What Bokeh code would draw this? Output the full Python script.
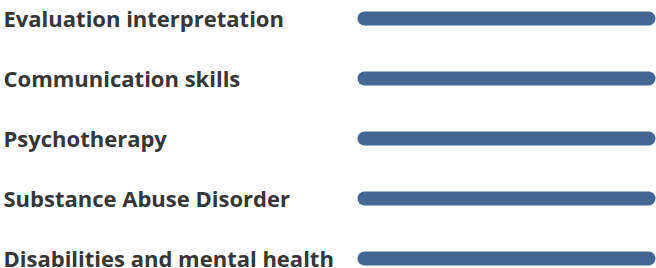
from bokeh.plotting import figure
from bokeh.models import ColumnDataSource, Range1d
from bokeh.core.properties import value
from bokeh.embed import file_html
from bokeh.resources import INLINE

categories = [
    "Evaluation interpretation",
    "Communication skills",
    "Psychotherapy",
    "Substance Abuse Disorder",
    "Disabilities and mental health",
]
values = [100, 100, 100, 100, 100]

W, H = 656, 268
bar_left_px = 357
bar_right_px = 655
label_left_px = 3
vmax = max(values)
ppu = (bar_right_px - bar_left_px) / vmax
x_start = -bar_left_px / ppu
x_end = (W - bar_left_px) / ppu

n = len(categories)
row_px = 60
top_pad_px = 18
y_top = -top_pad_px / row_px
y_bottom = y_top + H / row_px

pos = list(range(n))
src = ColumnDataSource(dict(cat=categories, val=values, y=pos,
                            zero=[0] * n, lx=[x_start + label_left_px / ppu] * n))

p = figure(width=W, height=H, output_backend="svg", toolbar_location=None,
           x_range=Range1d(x_start, x_end), y_range=Range1d(y_bottom, y_top),
           min_border=0, min_border_left=0, min_border_right=0,
           min_border_top=0, min_border_bottom=0)
p.axis.visible = False
p.grid.visible = False
p.outline_line_color = None
p.background_fill_color = "white"
p.border_fill_color = "white"

p.hbar(y="y", left="zero", right="val", height=14 / row_px, source=src,
       fill_color="#416792", line_color=None, border_radius=7)

p.text(x="lx", y="y", text="cat", source=src, text_align="left",
       text_baseline="middle", y_offset=-1, text_font=value("Open Sans"),
       text_font_style="bold", text_font_size="22px", text_color="#363636")

open("out.html", "w").write(file_html(p, INLINE))
